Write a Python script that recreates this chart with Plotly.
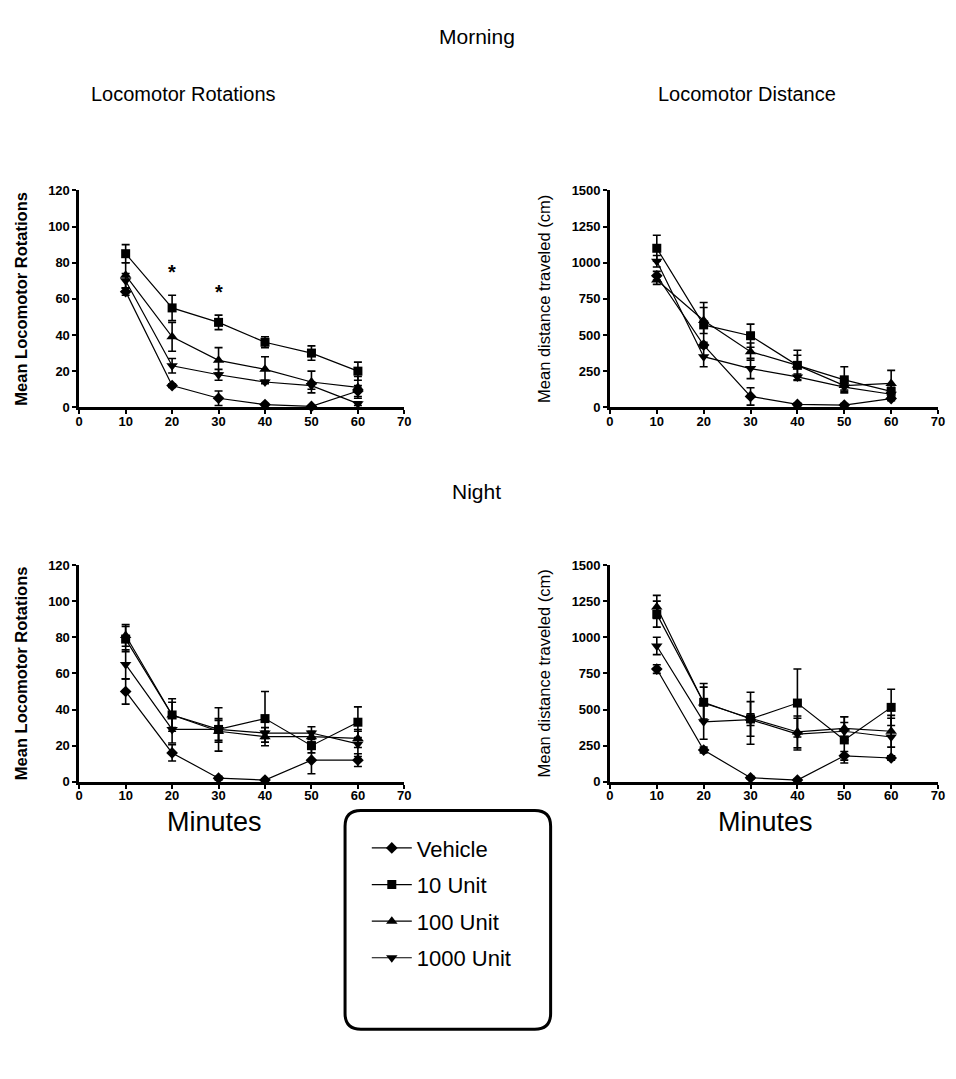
import plotly.graph_objects as go

minutes = [10, 20, 30, 40, 50, 60]
series = ["Vehicle", "10 Unit", "100 Unit", "1000 Unit"]
symbols = ["diamond", "square", "triangle-up", "triangle-down"]
msizes = [9, 9, 10, 10]

# Morning - locomotor rotations
m_rot = {
    "Vehicle":   [64, 12, 5, 1.5, 0.5, 9],
    "10 Unit":   [85, 55, 47, 36, 30, 20],
    "100 Unit":  [73, 39, 26, 21, 14, 11],
    "1000 Unit": [70, 23, 18, 14, 12, 2],
}
m_rot_err = {
    "Vehicle":   [2, 1, 4, 0.5, 0.5, 3],
    "10 Unit":   [5, 7, 4, 3, 4, 5],
    "100 Unit":  [7, 8, 7, 7, 6, 6],
    "1000 Unit": [4, 4, 3, 1, 2, 1],
}
# Morning - locomotor distance
m_dist = {
    "Vehicle":   [910, 430, 75, 20, 15, 60],
    "10 Unit":   [1100, 570, 495, 290, 190, 110],
    "100 Unit":  [880, 600, 385, 290, 150, 165],
    "1000 Unit": [1010, 350, 268, 210, 140, 90],
}
m_dist_err = {
    "Vehicle":   [30, 20, 60, 10, 10, 15],
    "10 Unit":   [90, 155, 80, 105, 90, 40],
    "100 Unit":  [30, 90, 60, 70, 40, 90],
    "1000 Unit": [40, 70, 70, 20, 20, 20],
}
# Night - locomotor rotations
n_rot = {
    "Vehicle":   [50, 16, 2, 1, 12, 12],
    "10 Unit":   [79, 37, 29, 35, 20, 33],
    "100 Unit":  [81, 37, 28, 25, 25, 24],
    "1000 Unit": [65, 29, 29, 27, 27, 21],
}
n_rot_err = {
    "Vehicle":   [7, 4.5, 1, 0.5, 7.5, 3.5],
    "10 Unit":   [7, 9, 12, 15, 4, 8.5],
    "100 Unit":  [6, 7, 6, 3, 3, 5],
    "1000 Unit": [8, 7.5, 6, 3, 3.5, 7],
}
# Night - locomotor distance
n_dist = {
    "Vehicle":   [780, 220, 28, 12, 180, 165],
    "10 Unit":   [1160, 550, 435, 545, 290, 515],
    "100 Unit":  [1210, 545, 440, 345, 370, 350],
    "1000 Unit": [940, 415, 430, 330, 350, 310],
}
n_dist_err = {
    "Vehicle":   [30, 20, 10, 5, 30, 15],
    "10 Unit":   [90, 130, 120, 235, 160, 125],
    "100 Unit":  [80, 110, 180, 110, 80, 110],
    "1000 Unit": [60, 120, 40, 110, 60, 130],
}

x_ticks = [0, 10, 20, 30, 40, 50, 60, 70]
rot_ticks = [0, 20, 40, 60, 80, 100, 120]
dist_ticks = [0, 250, 500, 750, 1000, 1250, 1500]

# page body has an 8px margin: the figure is made smaller and offset
OFF = 8
W, H = 940, 1045
FONT = "Liberation Sans, Arial, sans-serif"

def px(x):
    return (x - OFF) / W

def py(y):
    return 1 - (y - OFF) / H

fig = go.Figure()

panels = [
    (m_rot, m_rot_err, "x", "y"),
    (m_dist, m_dist_err, "x2", "y2"),
    (n_rot, n_rot_err, "x3", "y3"),
    (n_dist, n_dist_err, "x4", "y4"),
]
for pi, (vals, errs, xa, ya) in enumerate(panels):
    for si, s in enumerate(series):
        fig.add_trace(go.Scatter(
            x=minutes, y=vals[s], name=s, xaxis=xa, yaxis=ya,
            mode="lines+markers",
            line=dict(color="black", width=1.2),
            marker=dict(symbol=symbols[si], size=msizes[si], color="black"),
            error_y=dict(type="data", array=errs[s], color="black", thickness=1.6, width=4),
            cliponaxis=False,
            legendgroup=s, showlegend=(pi == 0),
        ))

axis_common = dict(
    showline=True, linecolor="black", linewidth=2.5, ticks="outside",
    ticklen=4, tickwidth=2, tickcolor="black", showgrid=False, zeroline=False,
    tickfont=dict(family=FONT, size=13, color="black", weight="bold"),
    mirror=False,
)

def xax(dom, anchor):
    return dict(axis_common, domain=dom, anchor=anchor, range=[0, 70],
                tickvals=x_ticks, ticktext=[str(t) for t in x_ticks],
                ticklabelstandoff=-4)

def yax(dom, anchor, ticks, rng, title, bold):
    return dict(axis_common, domain=dom, anchor=anchor, range=rng,
                tickvals=ticks, ticktext=[str(t) for t in ticks],
                title=dict(text=title, standoff=17,
                           font=dict(family=FONT, size=16.5, color="black",
                                     weight="bold" if bold else "normal")))

xl = [px(76), px(405)]
xr = [px(613), px(945)]
yt = [py(406), py(186)]
yb = [py(786), py(566)]

fig.update_layout(
    width=W, height=H, margin=dict(l=0, r=0, t=0, b=0),
    paper_bgcolor="white", plot_bgcolor="white",
    font=dict(family=FONT, color="black"),
    xaxis=xax(xl, "y"), yaxis=yax(yt, "x", rot_ticks, [0, 120], "Mean Locomotor Rotations", True),
    xaxis2=xax(xr, "y2"), yaxis2=yax(yt, "x2", dist_ticks, [0, 1500], "Mean distance traveled (cm)", False),
    xaxis3=xax(xl, "y3"), yaxis3=yax(yb, "x3", rot_ticks, [0, 120], "Mean Locomotor Rotations", True),
    xaxis4=xax(xr, "y4"), yaxis4=yax(yb, "x4", dist_ticks, [0, 1500], "Mean distance traveled (cm)", False),
    showlegend=True,
    legend=dict(x=px(367), y=py(832), xanchor="left", yanchor="top",
                font=dict(family=FONT, size=22, color="black"),
                bgcolor="rgba(0,0,0,0)", borderwidth=0, tracegroupgap=5,
                itemwidth=40),
)

def txt(x, y, s, size, bold=False):
    fig.add_annotation(x=px(x), y=py(y), xref="paper", yref="paper", text=s,
                       showarrow=False, xanchor="center", yanchor="middle",
                       font=dict(family=FONT, size=size, color="black",
                                 weight="bold" if bold else "normal"))

txt(478, 30, "Morning", 21)
txt(182, 88, "Locomotor Rotations", 20)
txt(752, 88, "Locomotor Distance", 20)
txt(478, 491, "Night", 21)
txt(213, 827, "Minutes", 27)
txt(770, 827, "Minutes", 27)

# significance asterisks
fig.add_annotation(x=20, y=75, xref="x", yref="y", text="*", showarrow=False,
                   font=dict(family=FONT, size=20, color="black", weight="bold"))
fig.add_annotation(x=30, y=64, xref="x", yref="y", text="*", showarrow=False,
                   font=dict(family=FONT, size=20, color="black", weight="bold"))

# rounded legend box
x0, x1, y0, y1 = 345, 553, 815, 1037
r = 16
def P(x, y):
    return f"{px(x):.5f},{py(y):.5f}"
path = (f"M {P(x0 + r, y0)} L {P(x1 - r, y0)} Q {P(x1, y0)} {P(x1, y0 + r)} "
        f"L {P(x1, y1 - r)} Q {P(x1, y1)} {P(x1 - r, y1)} "
        f"L {P(x0 + r, y1)} Q {P(x0, y1)} {P(x0, y1 - r)} "
        f"L {P(x0, y0 + r)} Q {P(x0, y0)} {P(x0 + r, y0)} Z")
fig.add_shape(type="path", path=path, xref="paper", yref="paper",
              line=dict(color="black", width=3))

fig.write_html("out.html")
